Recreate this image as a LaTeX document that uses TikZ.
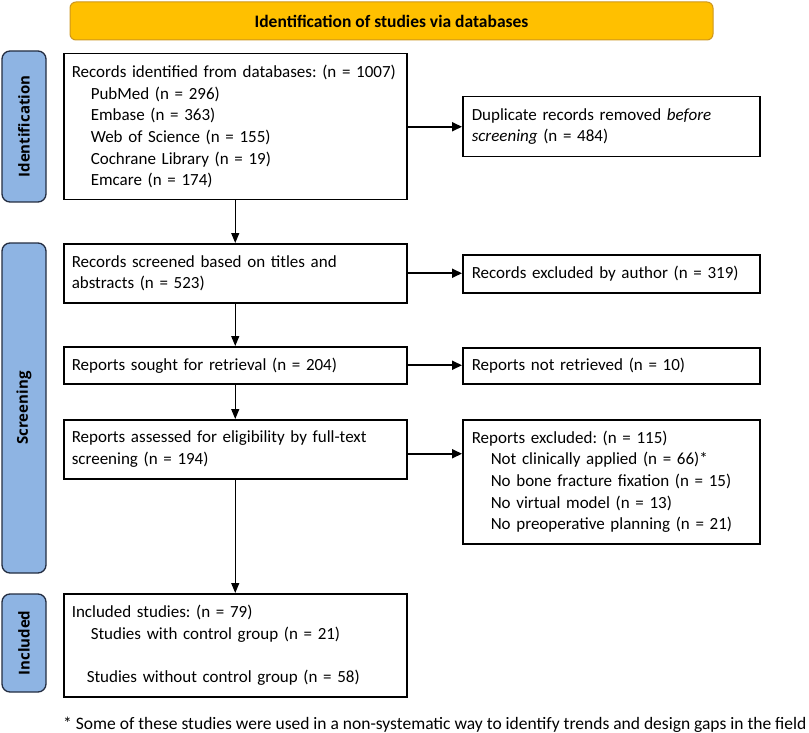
\documentclass[tikz,border=0pt]{standalone}
\usepackage{fontspec}
\setmainfont{Carlito}
\newfontfamily\labelfont{Open Sans}
\usetikzlibrary{arrows.meta}
\definecolor{gold}{RGB}{255,192,0}
\definecolor{goldborder}{RGB}{205,150,30}
\definecolor{barblue}{RGB}{142,180,227}
\definecolor{barborder}{RGB}{35,45,65}
\frenchspacing
\begin{document}
\begin{tikzpicture}[x=1pt,y=-1pt,
  box/.style={draw=black, line width=1.5pt, align=left, anchor=north west,
    inner xsep=8pt, inner ysep=0pt, font=\fontsize{17}{21.6}\selectfont},
  mainbox/.style={box, text width=327pt},
  sidebox/.style={box, text width=279pt, inner xsep=9pt},
  bar/.style={draw=barborder, fill=barblue, line width=1.3pt, rounded corners=8pt,
    rotate=90, minimum height=44pt, inner sep=0pt,
    font=\labelfont\bfseries\fontsize{15}{17}\selectfont},
  varr/.style={draw=black, line width=1.2pt, -{Triangle[length=10pt,width=8pt]}},
  harr/.style={draw=black, line width=2pt, -{Triangle[length=10pt,width=9pt]}},
]
\useasboundingbox (0,0) rectangle (809,733);

% banner
\node[draw=goldborder, fill=gold, line width=1pt, rounded corners=6pt,
  minimum width=643pt, minimum height=38pt, inner sep=0pt,
  font=\bfseries\fontsize{17.5}{20}\selectfont] (title) at (391.5,21) {Identification of studies via databases};

% side bars
\node[bar, minimum width=151pt] (sid) at (24,126.5) {Identification};
\node[bar, minimum width=330pt] (sscr) at (24,408) {Screening};
\node[bar, minimum width=98pt] (sinc) at (24,643) {Included};

% main column
\node[mainbox, minimum height=146pt] (b1) at (63,53) {Records identified from databases: (n = 1007)\\
\hspace*{19pt}PubMed (n = 296)\\
\hspace*{19pt}Embase (n = 363)\\
\hspace*{19pt}Web of Science (n = 155)\\
\hspace*{19pt}Cochrane Library (n = 19)\\
\hspace*{19pt}Emcare (n = 174)};
\node[mainbox, minimum height=59pt] (b2) at (63,243) {Records screened based on titles and\\ abstracts (n = 523)};
\node[mainbox, minimum height=37pt] (b3) at (63,346) {Reports sought for retrieval (n = 204)};
\node[mainbox, minimum height=59pt] (b4) at (63,419) {Reports assessed for eligibility by full-text\\ screening (n = 194)};
\node[mainbox, minimum height=103pt] (b5) at (63,593) {Included studies: (n = 79)\\
\hspace*{19pt}Studies with control group (n = 21)\\
\strut\\
\hspace*{15pt}Studies without control group (n = 58)};

% right column
\node[sidebox, minimum height=60pt] (r1) at (462,96) {Duplicate records removed \textit{before}\\ \textit{screening} (n = 484)};
\node[sidebox, minimum height=38pt] (r2) at (462,254) {Records excluded by author (n = 319)};
\node[sidebox, minimum height=36pt] (r3) at (462,347) {Reports not retrieved (n = 10)};
\node[sidebox, minimum height=124pt] (r4) at (462,419) {Reports excluded: (n = 115)\\
\hspace*{19pt}Not clinically applied (n = 66)*\\
\hspace*{19pt}No bone fracture fixation (n = 15)\\
\hspace*{19pt}No virtual model (n = 13)\\
\hspace*{19pt}No preoperative planning (n = 21)};

% footnote
\node[anchor=west, inner sep=0pt, font=\fontsize{17.5}{20}\selectfont] (foot) at (63,725)
  {* Some of these studies were used in a non-systematic way to identify trends and design gaps in the field};

% arrows
\draw[varr] (b1) -- (b2);
\draw[varr] (b2) -- (b3);
\draw[varr] (b3) -- (b4);
\draw[varr] (b4) -- (b5);
\draw[harr] (b1.east) -- (r1.west);
\draw[harr] (b2.east) -- (b2.east -| r2.west);
\draw[harr] (b3.east) -- (b3.east -| r3.west);
\draw[harr] ([yshift=-4.5pt]b4.east) -- ([yshift=-4.5pt]b4.east -| r4.west);
\end{tikzpicture}
\end{document}
